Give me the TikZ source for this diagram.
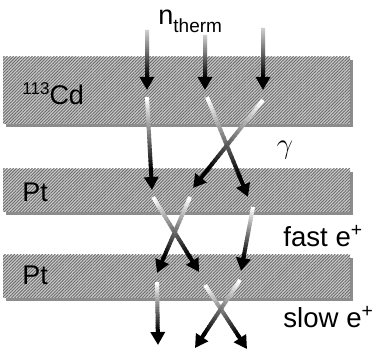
\documentclass[tikz,border=0pt]{standalone}
\usepackage{fontspec}
\setmainfont{Liberation Sans}
\usetikzlibrary{positioning, arrows.meta, calc, patterns.meta, shadows}

% a ray that fades in from its tail: #1 tail, #2 tip, #3 tail shade
\newcommand{\beam}[3]{%
  \foreach \k in {0,...,19}{%
    \pgfmathsetmacro{\shd}{#3+(100-#3)*\k/19}
    \draw[beamshaft, draw=black!\shd] ($(#1)!\k*0.04!(#2)$) -- ($(#1)!\k*0.04+0.05!(#2)$);
  }
  \draw[beamhead] ($(#1)!0.78!(#2)$) -- (#2);
}

\begin{document}
\begin{tikzpicture}[
    x=0.5pt, y=-0.5pt,
    slab/.style={draw=none, minimum width=173.5pt, inner sep=0pt,
                 general shadow={fill=black!45, shadow xshift=1.6pt, shadow yshift=-1.6pt},
                 preaction={fill=black!20},
                 pattern={Lines[angle=45, distance=1.1pt, line width=0.45pt]}, pattern color=black!58},
    lbl/.style={anchor=base west, inner sep=0pt},
    beamshaft/.style={line width=2pt},
    beamhead/.style={-{Triangle[length=6.5pt, width=7pt]}, line width=2pt, draw=black}
]
\useasboundingbox (0,0) rectangle (374,356);

% target layers
\node[slab, minimum height=33.5pt] (cd)  at (176.5,90.5)  {};
\node[slab, minimum height=21.5pt] (pt1) at (176.5,190.5) {};
\node[slab, minimum height=21.5pt] (pt2) at (176.5,276.5) {};

% labels
\node[lbl, font=\fontsize{13.5}{16}\selectfont] (ntherm) at (158,25)
     {n\raisebox{-0.55ex}{\fontsize{9.5}{11}\selectfont therm}};
\node[lbl, font=\fontsize{13.5}{16}\selectfont] (cdname) at (22,105)
     {\raisebox{0.75ex}{\fontsize{8.5}{10}\selectfont 113}Cd};
\node[lbl, font=\fontsize{13.5}{16}\selectfont] (pt1name) at (22,202) {Pt};
\node[lbl, font=\fontsize{13.5}{16}\selectfont] (pt2name) at (22,285) {Pt};
\node[font=\fontsize{14}{16}\selectfont] (gam) at (285,150) {$\gamma$};
\node[lbl, font=\fontsize{13.8}{16}\selectfont] (fast) at (283,247) {fast e\textsuperscript{+}};
\node[lbl, font=\fontsize{13.8}{16}\selectfont] (slow) at (283,328) {slow e\textsuperscript{+}};

% ray ends
\coordinate (n1a) at (147,30);  \coordinate (n1b) at (147,90);
\coordinate (n2a) at (205,35);  \coordinate (n2b) at (205,90);
\coordinate (n3a) at (263,28);  \coordinate (n3b) at (263,90);
\coordinate (g1a) at (147,97);  \coordinate (g1b) at (152,190);
\coordinate (g2a) at (207,97);  \coordinate (g2b) at (248,197);
\coordinate (g3a) at (263,100); \coordinate (g3b) at (193,188);
\coordinate (f1a) at (153,197); \coordinate (f1b) at (199,272);
\coordinate (f2a) at (190,197); \coordinate (f2b) at (157,273);
\coordinate (f3a) at (253,207); \coordinate (f3b) at (241,271);
\coordinate (s1a) at (157,282); \coordinate (s1b) at (158,345);
\coordinate (s2a) at (205,285); \coordinate (s2b) at (247,349);
\coordinate (s3a) at (240,280); \coordinate (s3b) at (195,348);

\foreach \r in {n1, n2, n3}{\beam{\r a}{\r b}{20}}
\foreach \r in {g1, g2, g3, f1, f2, f3, s1, s2, s3}{\beam{\r a}{\r b}{0}}
\end{tikzpicture}
\end{document}
